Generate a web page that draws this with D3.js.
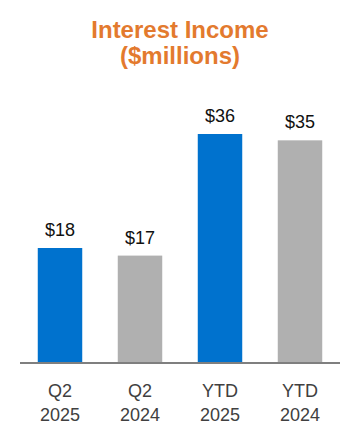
<!DOCTYPE html>
<html>
<head>
<meta charset="utf-8">
<script src="https://cdn.jsdelivr.net/npm/d3@7"></script>
<style>
  html, body { margin: 0; padding: 0; background: #fff; }
  svg { display: block; }
</style>
</head>
<body>
<svg id="chart" width="360" height="448"></svg>
<script>
const categories = [["Q2", "2025"], ["Q2", "2024"], ["YTD", "2025"], ["YTD", "2024"]];
const values = [18.0, 16.8, 36.0, 35.0];
const valueLabels = ["$18", "$17", "$36", "$35"];
const barColors = ["#0072CE", "#B0B0B0", "#0072CE", "#B0B0B0"];
const titleLines = ["Interest Income", "($millions)"];

const svg = d3.select("#chart");
const font = "'Liberation Sans', Arial, sans-serif";
const baseY = 362;

const x = d3.scaleBand()
  .domain(d3.range(categories.length))
  .range([20, 340])
  .paddingInner(0.444)
  .paddingOuter(0.222);

const y = d3.scaleLinear().domain([0, 36]).range([baseY, 134]);

// Title
svg.append("g").selectAll("text")
  .data(titleLines)
  .join("text")
  .attr("x", 180)
  .attr("y", (d, i) => 38 + i * 26)
  .attr("text-anchor", "middle")
  .attr("font-family", font)
  .attr("font-weight", "bold")
  .attr("font-size", 24)
  .attr("fill", "#E37A2E")
  .text(d => d);

// Bars
svg.append("g").selectAll("rect")
  .data(values)
  .join("rect")
  .attr("x", (d, i) => x(i))
  .attr("width", x.bandwidth())
  .attr("y", d => y(d))
  .attr("height", d => baseY - y(d))
  .attr("fill", (d, i) => barColors[i]);

// Value labels
svg.append("g").selectAll("text")
  .data(values)
  .join("text")
  .attr("x", (d, i) => x(i) + x.bandwidth() / 2)
  .attr("y", d => y(d) - 12)
  .attr("text-anchor", "middle")
  .attr("font-family", font)
  .attr("font-size", 18)
  .attr("fill", "#111")
  .text((d, i) => valueLabels[i]);

// Axis line
svg.append("line")
  .attr("x1", 20).attr("x2", 340)
  .attr("y1", baseY + 1).attr("y2", baseY + 1)
  .attr("stroke", "#7F7F7F")
  .attr("stroke-width", 2);

// Category labels
const cat = svg.append("g").selectAll("text")
  .data(categories)
  .join("text")
  .attr("x", (d, i) => x(i) + x.bandwidth() / 2)
  .attr("y", 397)
  .attr("text-anchor", "middle")
  .attr("font-family", font)
  .attr("font-size", 18)
  .attr("fill", "#404040");
cat.selectAll("tspan")
  .data(d => d)
  .join("tspan")
  .attr("x", function() { return this.parentNode.getAttribute("x"); })
  .attr("dy", (d, i) => i === 0 ? 0 : 23.5)
  .text(d => d);
</script>
</body>
</html>
